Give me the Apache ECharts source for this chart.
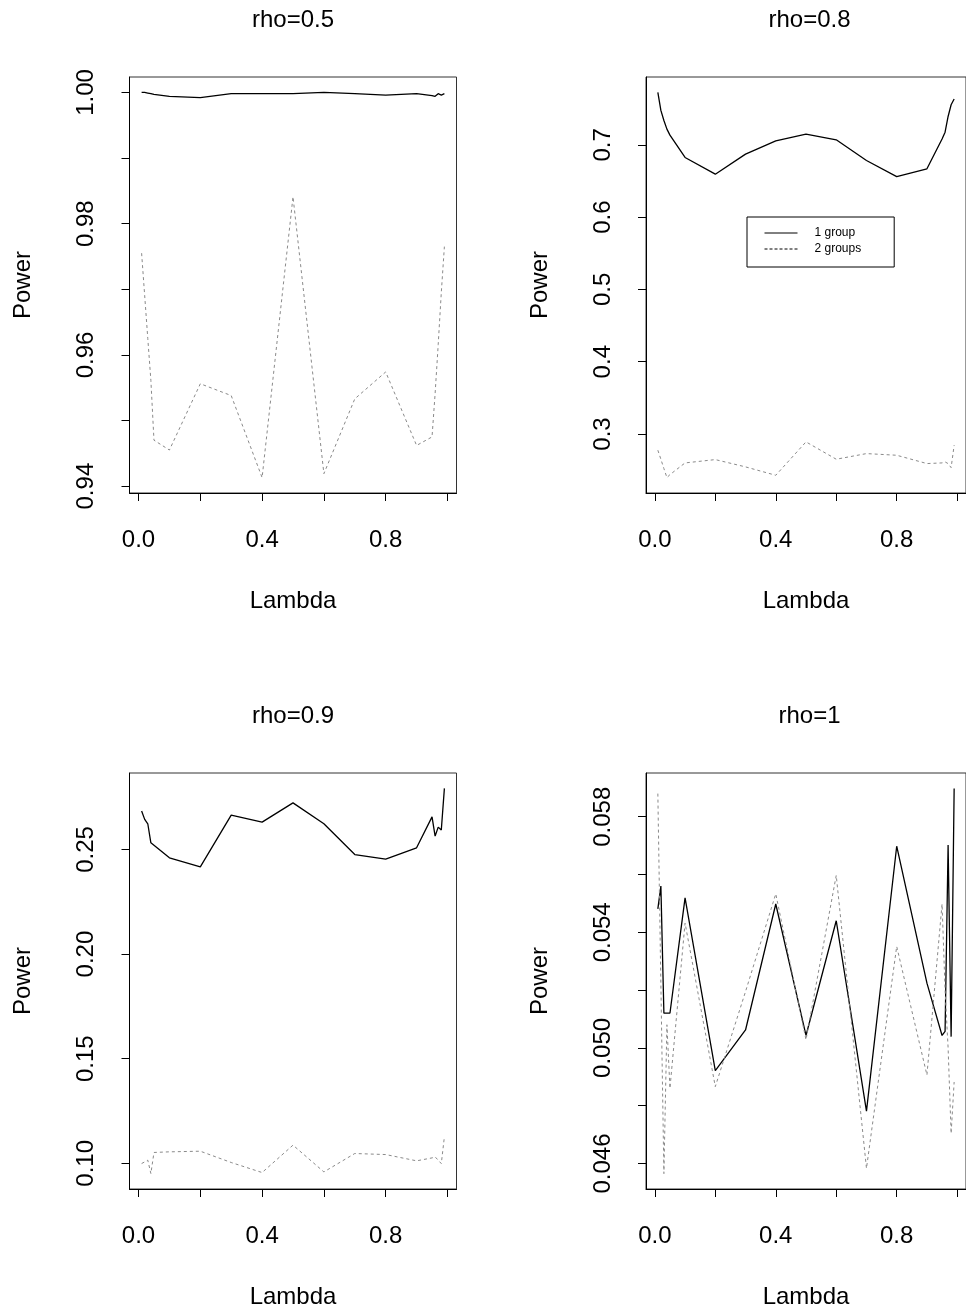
<!DOCTYPE html>
<html>
<head>
<meta charset="utf-8">
<script src="https://cdn.jsdelivr.net/npm/echarts@6/dist/echarts.min.js"></script>
<style>
  html, body { margin: 0; padding: 0; background: #fff; }
  #chart { width: 966px; height: 1312px; }
</style>
</head>
<body>
<div id="chart"></div>
<script>
// Power against Lambda for four correlation levels (rho)
const lambda = [0.01, 0.02, 0.03, 0.04, 0.05, 0.1, 0.2, 0.3, 0.4, 0.5, 0.6, 0.7, 0.8, 0.9, 0.95, 0.96, 0.97, 0.98, 0.99];

const panelTitles = ['rho=0.5', 'rho=0.8', 'rho=0.9', 'rho=1'];
const seriesNames = ['1 group', '2 groups'];

const oneGroupRho05 = [1.0000, 1.0000, 0.9999, 0.9998, 0.9997, 0.9994, 0.9992, 0.9998, 0.9998, 0.9998, 1.0000, 0.9998, 0.9996, 0.9998, 0.9995, 0.9994, 0.9998, 0.9996, 0.9998];
const twoGroupsRho05 = [0.9755, 0.9690, 0.9625, 0.9561, 0.9470, 0.9455, 0.9556, 0.9538, 0.9413, 0.9841, 0.9419, 0.9533, 0.9574, 0.9462, 0.9475, 0.9541, 0.9616, 0.9695, 0.9765];

const oneGroupRho08 = [0.7725, 0.7476, 0.7337, 0.7217, 0.7134, 0.6825, 0.6594, 0.6871, 0.7055, 0.7148, 0.7069, 0.6783, 0.6561, 0.6668, 0.7081, 0.7175, 0.7392, 0.7554, 0.7633];
const twoGroupsRho08 = [0.2776, 0.2651, 0.2522, 0.2397, 0.2438, 0.2600, 0.2646, 0.2545, 0.2429, 0.2891, 0.2651, 0.2729, 0.2706, 0.2591, 0.2600, 0.2614, 0.2591, 0.2535, 0.2845];

const oneGroupRho09 = [0.2684, 0.2644, 0.2623, 0.2532, 0.2520, 0.2460, 0.2417, 0.2664, 0.2631, 0.2723, 0.2623, 0.2476, 0.2454, 0.2508, 0.2656, 0.2564, 0.2607, 0.2593, 0.2792];
const twoGroupsRho09 = [0.0999, 0.1007, 0.1015, 0.0951, 0.1052, 0.1055, 0.1058, 0.1004, 0.0956, 0.1087, 0.0959, 0.1047, 0.1042, 0.1012, 0.1026, 0.1031, 0.1015, 0.0999, 0.1127];

const oneGroupRho1 = [0.05481, 0.05560, 0.05120, 0.05120, 0.05120, 0.05519, 0.04921, 0.05062, 0.05498, 0.05043, 0.05440, 0.04781, 0.05698, 0.05224, 0.05043, 0.05057, 0.05702, 0.05039, 0.05898];
const twoGroupsRho1 = [0.05880, 0.05220, 0.04565, 0.05080, 0.04860, 0.05432, 0.04866, 0.05195, 0.05533, 0.05028, 0.05597, 0.04583, 0.05351, 0.04906, 0.05498, 0.05200, 0.05000, 0.04704, 0.04882];

// tick positions and labelled ticks
const xTicks = [0, 0.2, 0.4, 0.6, 0.8, 1.0];
const xTickLabels = [0, 0.4, 0.8];
const yTicksRho05 = [0.94, 0.95, 0.96, 0.97, 0.98, 0.99, 1.00];
const yLabelsRho05 = [0.94, 0.96, 0.98, 1.00];
const yTicksRho08 = [0.3, 0.4, 0.5, 0.6, 0.7];
const yLabelsRho08 = [0.3, 0.4, 0.5, 0.6, 0.7];
const yTicksRho09 = [0.10, 0.15, 0.20, 0.25];
const yLabelsRho09 = [0.10, 0.15, 0.20, 0.25];
const yTicksRho1 = [0.046, 0.048, 0.050, 0.052, 0.054, 0.056, 0.058];
const yLabelsRho1 = [0.046, 0.050, 0.054, 0.058];

const FONT = 'Liberation Sans, Arial, Helvetica, sans-serif';

const panels = [
  { one: oneGroupRho05, two: twoGroupsRho05, yTicks: yTicksRho05, yLabels: yLabelsRho05, digits: 2 },
  { one: oneGroupRho08, two: twoGroupsRho08, yTicks: yTicksRho08, yLabels: yLabelsRho08, digits: 1 },
  { one: oneGroupRho09, two: twoGroupsRho09, yTicks: yTicksRho09, yLabels: yLabelsRho09, digits: 2 },
  { one: oneGroupRho1,  two: twoGroupsRho1,  yTicks: yTicksRho1,  yLabels: yLabelsRho1,  digits: 3 }
];

// plot regions in a 2 x 2 arrangement
const plotLeft = [129.5, 646];
const plotTop = [77, 773];
const plotWidth = 327;
const plotHeight = 416;

// R-style axis range: data range padded by 4% on each side
function paddedRange(values) {
  const lo = Math.min.apply(null, values);
  const hi = Math.max.apply(null, values);
  const pad = (hi - lo) * 0.04;
  return [lo - pad, hi + pad];
}

const xRange = paddedRange(lambda);

const grids = [], xAxes = [], yAxes = [], series = [], graphics = [];

panels.forEach((p, i) => {
  const col = i % 2, row = Math.floor(i / 2);
  grids.push({
    left: plotLeft[col], top: plotTop[row], width: plotWidth, height: plotHeight,
    show: true, borderColor: '#333', borderWidth: 1, backgroundColor: 'transparent'
  });
  const yRange = paddedRange(p.one.concat(p.two));
  xAxes.push({
    type: 'value', gridIndex: i, min: xRange[0], max: xRange[1],
    name: 'Lambda', nameLocation: 'middle', nameGap: 96,
    nameTextStyle: { fontSize: 24, color: '#000', fontFamily: FONT },
    axisLine: { show: true, onZero: false, lineStyle: { color: '#000', width: 1 } },
    axisTick: { show: true, length: 8, customValues: xTicks, lineStyle: { color: '#000' } },
    axisLabel: {
      customValues: xTickLabels, margin: 35, fontSize: 24, color: '#000', fontFamily: FONT,
      formatter: v => v.toFixed(1)
    },
    splitLine: { show: false }
  });
  yAxes.push({
    type: 'value', gridIndex: i, min: yRange[0], max: yRange[1],
    name: 'Power', nameLocation: 'middle', nameGap: 94,
    nameTextStyle: { fontSize: 24, color: '#000', fontFamily: FONT },
    axisLine: { show: true, onZero: false, lineStyle: { color: '#000', width: 1 } },
    axisTick: { show: true, length: 8, customValues: p.yTicks, lineStyle: { color: '#000' } },
    axisLabel: {
      customValues: p.yLabels, rotate: 90, margin: 31, fontSize: 24, color: '#000', fontFamily: FONT,
      formatter: v => v.toFixed(p.digits)
    },
    splitLine: { show: false }
  });
  series.push({
    name: seriesNames[0], type: 'line', xAxisIndex: i, yAxisIndex: i,
    data: lambda.map((x, k) => [x, p.one[k]]),
    symbol: 'none', lineStyle: { color: '#000', width: 1.3, type: 'solid' },
    itemStyle: { color: '#000' }
  });
  series.push({
    name: seriesNames[1], type: 'line', xAxisIndex: i, yAxisIndex: i,
    data: lambda.map((x, k) => [x, p.two[k]]),
    symbol: 'none', lineStyle: { color: '#8a8a8a', width: 1, type: [3, 3] },
    itemStyle: { color: '#8a8a8a' }
  });
  graphics.push({
    type: 'text',
    x: plotLeft[col] + plotWidth / 2,
    y: plotTop[row] - 57,
    style: {
      text: panelTitles[i], fill: '#000', fontSize: 24, fontFamily: FONT,
      align: 'center', verticalAlign: 'middle', textAlign: 'center', textVerticalAlign: 'middle'
    }
  });
});

const chart = echarts.init(document.getElementById('chart'), null, { renderer: 'canvas' });
chart.setOption({
  animation: false,
  backgroundColor: '#fff',
  textStyle: { fontFamily: FONT },
  grid: grids,
  xAxis: xAxes,
  yAxis: yAxes,
  series: series,
  graphic: graphics,
  legend: {
    orient: 'vertical',
    left: 747, top: 217,
    padding: [10, 33, 12, 17],
    itemWidth: 33, itemHeight: 12, itemGap: 4,
    borderColor: '#000', borderWidth: 1,
    backgroundColor: '#fff',
    textStyle: { fontSize: 12, color: '#000', fontFamily: FONT, padding: [0, 0, 0, 12] },
    data: [
      { name: seriesNames[0], itemStyle: { opacity: 0 }, lineStyle: { color: '#000', type: 'solid', width: 1 } },
      { name: seriesNames[1], itemStyle: { opacity: 0 }, lineStyle: { color: '#000', type: [3, 2], width: 1 } }
    ]
  }
});
</script>
</body>
</html>
